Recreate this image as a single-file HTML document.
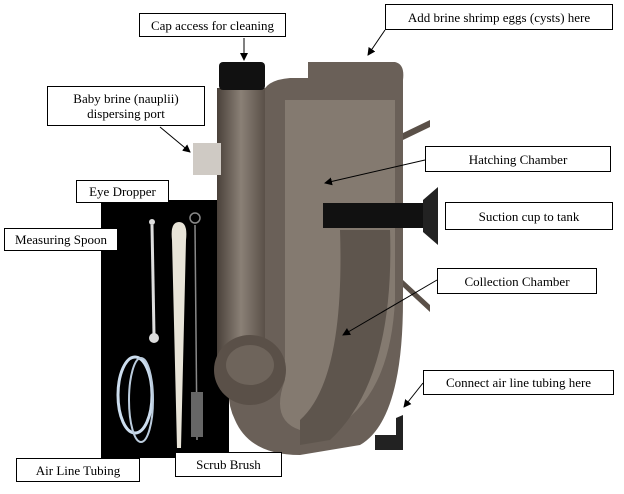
<!DOCTYPE html><html><head><style>
body{margin:0;width:624px;height:494px;background:#fff;position:relative;overflow:hidden;font-family:"Liberation Serif",serif;font-size:13px}
.l{position:absolute;border:1px solid #000;background:#fff;text-align:center;box-sizing:border-box;display:flex;align-items:center;justify-content:center;line-height:15px}
svg{position:absolute;left:0;top:0}
</style></head><body>
<svg width="624" height="494">
<defs><marker id="a" markerWidth="8" markerHeight="8" refX="7" refY="4" orient="auto"><path d="M0,0L8,4L0,8z"/></marker>
<linearGradient id="g" x1="0" x2="1"><stop offset="0" stop-color="#4a413a"/><stop offset="0.5" stop-color="#8a8076"/><stop offset="1" stop-color="#5a5048"/></linearGradient></defs>
<rect x="101" y="200" width="128" height="258" fill="#000"/>
<path d="M262,95 Q265,80 290,78 L308,78 L308,62 L395,62 Q405,64 403,80 L403,300 Q403,420 360,445 L300,455 Q250,455 235,420 Q220,390 240,345 L262,340 Z" fill="#6a6058"/>
<path d="M285,100 L395,100 L395,300 Q390,400 330,430 L300,430 Q270,420 285,380 Z" fill="#847a70"/>
<path d="M340,230 L390,230 Q395,380 330,440 L300,445 L300,420 Q345,380 340,230Z" fill="#5e554d"/>
<rect x="217" y="88" width="48" height="270" fill="url(#g)"/>
<ellipse cx="250" cy="370" rx="36" ry="35" fill="#5a5048"/>
<ellipse cx="250" cy="365" rx="24" ry="20" fill="#6e645b"/>
<rect x="219" y="62" width="46" height="28" rx="4" fill="#111"/>
<rect x="193" y="143" width="28" height="32" fill="#cfcac4"/>
<rect x="323" y="203" width="100" height="25" fill="#111"/>
<path d="M423,200 L438,187 L438,245 L423,232Z" fill="#222"/>
<path d="M403,133 L430,120 L430,127 L403,140Z M403,280 L430,305 L430,312 L403,287Z" fill="#5a5048"/>
<path d="M375,435 L396,435 L396,418 L403,415 L403,450 L375,450Z" fill="#222"/>
<line x1="152" y1="225" x2="154" y2="335" stroke="#ddd" stroke-width="3"/>
<circle cx="152" cy="222" r="3" fill="#ddd"/><circle cx="154" cy="338" r="5" fill="#ddd"/>
<path d="M172,240 Q170,222 179,222 Q188,222 186,240 L181,448 L177,448Z" fill="#e8e4d8"/>
<line x1="195" y1="225" x2="197" y2="440" stroke="#888" stroke-width="1.5"/>
<circle cx="195" cy="218" r="5" fill="none" stroke="#888" stroke-width="1.5"/>
<rect x="191" y="392" width="12" height="45" fill="#666"/>
<ellipse cx="135" cy="395" rx="17" ry="38" fill="none" stroke="#cde" stroke-width="3"/>
<ellipse cx="141" cy="400" rx="12" ry="42" fill="none" stroke="#bcd" stroke-width="2"/>
<g stroke="#000" stroke-width="1" marker-end="url(#a)">
<line x1="244" y1="38" x2="244" y2="60"/>
<line x1="385" y1="30" x2="368" y2="55"/>
<line x1="160" y1="127" x2="190" y2="152"/>
<line x1="425" y1="160" x2="325" y2="183"/>
<line x1="168" y1="202" x2="173" y2="220"/>
<line x1="118" y1="239" x2="146" y2="239"/>
<line x1="437" y1="280" x2="343" y2="335"/>
<line x1="423" y1="383" x2="404" y2="407"/>
<line x1="108" y1="458" x2="122" y2="446"/>
<line x1="222" y1="452" x2="205" y2="432"/>
</g>
</svg>
<div class="l" style="left:139px;top:13px;width:147px;height:24px">Cap access for cleaning</div>
<div class="l" style="left:385px;top:4px;width:228px;height:26px">Add brine shrimp eggs (cysts) here</div>
<div class="l" style="left:47px;top:86px;width:158px;height:40px">Baby brine (nauplii)<br>dispersing port</div>
<div class="l" style="left:425px;top:146px;width:186px;height:26px">Hatching Chamber</div>
<div class="l" style="left:76px;top:180px;width:93px;height:23px">Eye Dropper</div>
<div class="l" style="left:4px;top:228px;width:114px;height:23px">Measuring Spoon</div>
<div class="l" style="left:445px;top:202px;width:168px;height:28px">Suction cup to tank</div>
<div class="l" style="left:437px;top:268px;width:160px;height:26px">Collection Chamber</div>
<div class="l" style="left:423px;top:370px;width:191px;height:25px">Connect air line tubing here</div>
<div class="l" style="left:16px;top:458px;width:124px;height:24px">Air Line Tubing</div>
<div class="l" style="left:175px;top:452px;width:107px;height:25px">Scrub Brush</div>
</body></html>
